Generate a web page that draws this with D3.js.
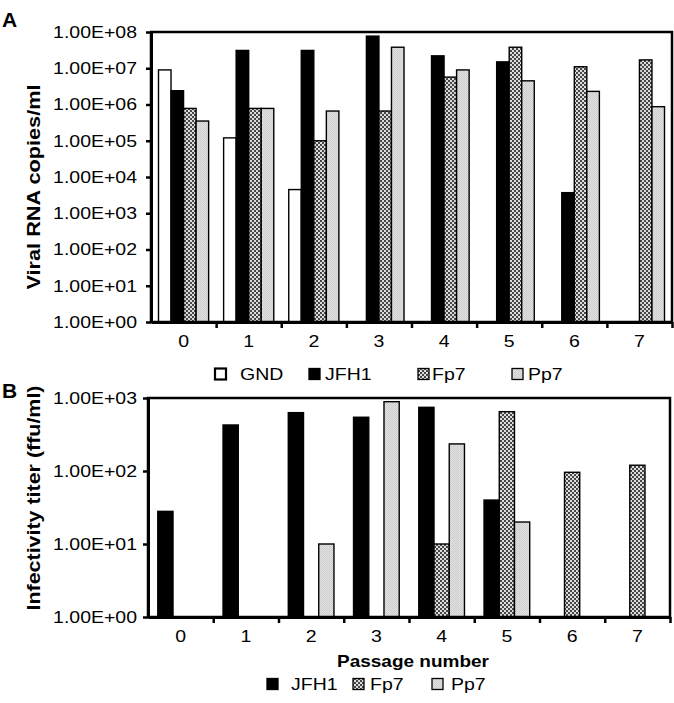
<!DOCTYPE html>
<html><head><meta charset="utf-8">
<script src="https://cdn.jsdelivr.net/npm/d3@7"></script>
<style>body{margin:0;background:#fff}svg{display:block}text{font-family:"Liberation Sans",Arial,sans-serif;fill:#000}</style>
</head><body>
<script>
// ---- data ----
const passages = ["0","1","2","3","4","5","6","7"];
const seriesA = ["GND","JFH1","Fp7","Pp7"];
const gndRNA  = [9e6, 1.2e5, 4.5e3, null, null, null, null, null];
const jfh1RNA = [2.4e6, 3.1e7, 3.1e7, 7.7e7, 2.2e7, 1.5e7, 3.7e3, null];
const fp7RNA  = [7.8e5, 7.8e5, 1.0e5, 6.6e5, 5.7e6, 3.8e7, 1.1e7, 1.7e7];
const pp7RNA  = [3.5e5, 7.8e5, 6.6e5, 3.8e7, 9.0e6, 4.5e6, 2.3e6, 8.7e5];
const seriesB = ["JFH1","Fp7","Pp7"];
const jfh1Titer = [28, 427, 630, 545, 745, 40, null, null];
const fp7Titer  = [null, null, null, null, 10, 650, 96, 120];
const pp7Titer  = [null, null, 10, 890, 235, 20, null, null];
const ticksA = [1e0,1e1,1e2,1e3,1e4,1e5,1e6,1e7,1e8];
const ticksB = [1e0,1e1,1e2,1e3];

const W = 674, H = 703;
const svg = d3.select("body").append("svg").attr("width", W).attr("height", H);

const defs = svg.append("defs");
const pf = defs.append("pattern").attr("id","pFp7").attr("patternUnits","userSpaceOnUse").attr("width",4).attr("height",4);
pf.append("rect").attr("width",4).attr("height",4).attr("fill","#dcdcdc");
pf.append("rect").attr("width",2).attr("height",2).attr("fill","#474747");
pf.append("rect").attr("x",2).attr("y",2).attr("width",2).attr("height",2).attr("fill","#474747");
const pp = defs.append("pattern").attr("id","pPp7").attr("patternUnits","userSpaceOnUse").attr("width",2).attr("height",2);
pp.append("rect").attr("width",2).attr("height",2).attr("fill","#e0e0e0");
pp.append("rect").attr("width",1).attr("height",1).attr("fill","#cfcfcf");
pp.append("rect").attr("x",1).attr("y",1).attr("width",1).attr("height",1).attr("fill","#cfcfcf");

const fills = {GND:"#fff", JFH1:"#000", Fp7:"url(#pFp7)", Pp7:"url(#pPp7)"};

function stretch(sel, k){
  sel.each(function(){
    const l = this.getComputedTextLength();
    this.setAttribute("textLength", l*k);
    this.setAttribute("lengthAdjust","spacingAndGlyphs");
  });
}
const fmt = v => "1.00E+" + String(Math.round(Math.log10(v))).padStart(2,"0");
const FS = 16.5, K = 1.18;

function panel(o){
  const {left,right,top,bottom,domain,ticks,series,values,groupFrac} = o;
  const g = svg.append("g");
  const x0 = d3.scaleBand().domain(passages).range([left,right]).paddingInner(1-groupFrac).paddingOuter((1-groupFrac)/2);
  const x1 = d3.scaleBand().domain(series).range([0, x0.bandwidth()]);
  const y = d3.scaleLog().domain(domain).range([bottom, top]);

  series.forEach((s,si) => {
    g.append("g").selectAll("rect").data(values[si].map((v,i)=>({v,p:passages[i]})).filter(d=>d.v!=null))
      .join("rect")
      .attr("x", d => x0(d.p) + x1(s))
      .attr("y", d => y(d.v))
      .attr("width", x1.bandwidth())
      .attr("height", d => bottom - y(d.v))
      .attr("fill", fills[s])
      .attr("stroke","#000").attr("stroke-width",1.4);
  });

  g.append("rect").attr("x",left).attr("y",top).attr("width",right-left).attr("height",bottom-top)
    .attr("fill","none").attr("stroke","#000").attr("stroke-width",2.5);

  const ya = g.append("g").attr("transform",`translate(${left},0)`)
    .call(d3.axisLeft(y).tickValues(ticks).tickFormat(fmt).tickSize(5).tickSizeOuter(0).tickPadding(left-5-137));
  ya.select(".domain").attr("stroke-width",3);
  ya.selectAll(".tick line").attr("stroke-width",2.5);
  ya.selectAll("text").attr("font-size",FS).attr("font-family","Liberation Sans, Arial, sans-serif").call(stretch,K);

  const xb = d3.scaleLinear().domain([0,8]).range([left,right]);
  const xt = g.append("g").attr("transform",`translate(0,${bottom})`)
    .call(d3.axisBottom(xb).tickValues(d3.range(1,9)).tickFormat("").tickSize(6).tickSizeOuter(0));
  xt.select(".domain").attr("stroke-width",3);
  xt.selectAll(".tick line").attr("stroke-width",2.5);

  const xa = g.append("g").attr("transform",`translate(0,${bottom})`)
    .call(d3.axisBottom(x0).tickSize(0).tickPadding(13));
  xa.select(".domain").remove();
  xa.selectAll("text").attr("font-size",FS).attr("font-family","Liberation Sans, Arial, sans-serif").call(stretch,K);
  return g;
}

panel({left:151,right:672,top:32,bottom:322,domain:[1,1e8],ticks:ticksA,series:seriesA,
  values:[gndRNA,jfh1RNA,fp7RNA,pp7RNA],groupFrac:0.77});
panel({left:148,right:670,top:398,bottom:617,domain:[1,1e3],ticks:ticksB,series:seriesB,
  values:[jfh1Titer,fp7Titer,pp7Titer],groupFrac:0.70});

svg.append("text").attr("x",2).attr("y",27).attr("font-size",21).attr("font-weight","bold").text("A");
svg.append("text").attr("x",2).attr("y",398).attr("font-size",21).attr("font-weight","bold").text("B");

svg.append("text").attr("transform","translate(40,187) rotate(-90)").attr("text-anchor","middle")
  .attr("font-size",17.5).attr("font-weight","bold").attr("textLength",205).attr("lengthAdjust","spacingAndGlyphs")
  .text("Viral RNA copies/ml");
svg.append("text").attr("transform","translate(40,498) rotate(-90)").attr("text-anchor","middle")
  .attr("font-size",17.5).attr("font-weight","bold").attr("textLength",225).attr("lengthAdjust","spacingAndGlyphs")
  .text("Infectivity titer (ffu/ml)");
svg.append("text").attr("x",413).attr("y",667).attr("text-anchor","middle")
  .attr("font-size",16.5).attr("font-weight","bold").attr("textLength",152).attr("lengthAdjust","spacingAndGlyphs")
  .text("Passage number");

function legend(items, cy){
  const lg = svg.append("g");
  items.forEach(it => {
    lg.append("rect").attr("x",it.bx).attr("y",cy-5.5).attr("width",11).attr("height",11)
      .attr("fill",fills[it.s]).attr("stroke","#000").attr("stroke-width", it.s==="GND"?2.2:1.3);
    lg.append("text").attr("x",it.tx).attr("y",cy+6).attr("font-size",FS).text(it.s)
      .call(stretch,K);
  });
}
legend([{s:"GND",bx:215,tx:240},{s:"JFH1",bx:309,tx:325},{s:"Fp7",bx:418,tx:432},{s:"Pp7",bx:512,tx:528}], 374);
legend([{s:"JFH1",bx:267,tx:291},{s:"Fp7",bx:353,tx:370},{s:"Pp7",bx:432,tx:451}], 684);
</script>
</body></html>
